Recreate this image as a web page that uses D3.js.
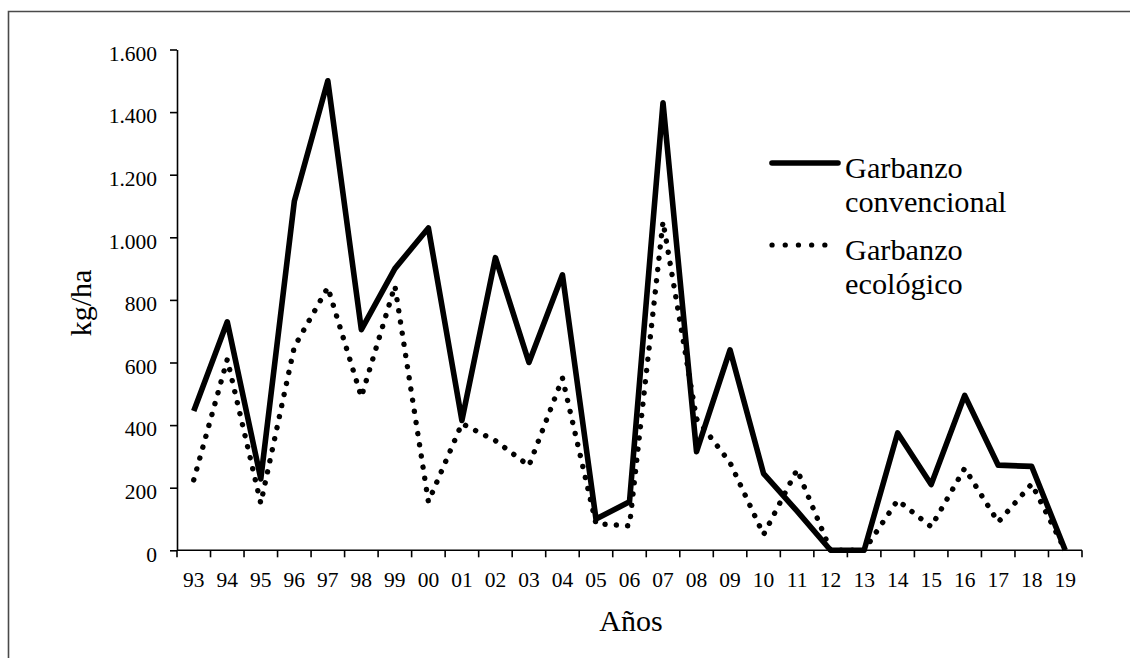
<!DOCTYPE html>
<html><head><meta charset="utf-8">
<script src="https://cdn.jsdelivr.net/npm/d3@7"></script>
<style>
html,body{margin:0;padding:0;background:#fff;}
svg{display:block;}
text{font-family:"Liberation Serif","Times New Roman",serif;fill:#000;}
</style></head>
<body>
<svg id="chart" width="1130" height="658"></svg>
<script>
const years = ["93","94","95","96","97","98","99","00","01","02","03","04","05","06","07","08","09","10","11","12","13","14","15","16","17","18","19"];
const convencional = [445,730,228,1115,1500,705,900,1030,415,935,600,880,100,155,1430,315,640,245,125,0,0,375,210,495,272,268,0];
const ecologico = [225,610,150,650,840,490,845,155,405,350,270,550,85,78,1050,420,280,50,258,0,0,160,75,262,90,212,0];
const yTicks = [0,200,400,600,800,1000,1200,1400,1600];
const seriesNames = ["Garbanzo convencional","Garbanzo ecológico"];

const svg = d3.select("#chart");

// outer frame
svg.append("path")
  .attr("d","M8.5,700 L8.5,11.5 L1140,11.5")
  .attr("fill","none").attr("stroke","#4a4a4a").attr("stroke-width",1.6);

const pL = 177, pR = 1082, pT = 49.5, pB = 550.3;
const x = d3.scaleBand().domain(years).range([pL,pR]).padding(0);
const y = d3.scaleLinear().domain([0,1600]).range([pB,pT]);
const fmt = v => d3.format(",")(v).replace(/,/g,".");

// Y axis
const gy = svg.append("g").attr("transform",`translate(${pL},0)`)
  .call(d3.axisLeft(y).tickValues(yTicks).tickFormat(fmt).tickSize(7).tickSizeOuter(0).tickPadding(13));
gy.attr("font-family",null).attr("font-size",null);
gy.select(".domain").attr("stroke","#000").attr("stroke-width",1.6);
gy.selectAll(".tick line").attr("stroke","#000").attr("stroke-width",1.6);
gy.selectAll(".tick text").attr("font-size","21.5px").attr("dy","0.5em");

// X axis with ticks at band boundaries
const gx = svg.append("g").attr("transform",`translate(0,${pB})`);
gx.append("line").attr("x1",pL).attr("x2",pR).attr("y1",0).attr("y2",0)
  .attr("stroke","#000").attr("stroke-width",1.6);
const boundaries = years.map(d => x(d)).concat([pR]);
gx.selectAll("line.tk").data(boundaries).join("line").attr("class","tk")
  .attr("x1",d=>d).attr("x2",d=>d).attr("y1",0).attr("y2",7)
  .attr("stroke","#000").attr("stroke-width",1.6);
gx.selectAll("text").data(years).join("text")
  .attr("x",d=>x(d)+x.bandwidth()/2).attr("y",37)
  .attr("text-anchor","middle").attr("font-size","21.5px").text(d=>d);

// lines
const line = d3.line().x((d,i)=>x(years[i])+x.bandwidth()/2).y(d=>y(d));
svg.append("path").datum(ecologico).attr("d",line)
  .attr("fill","none").attr("stroke","#000").attr("stroke-width",5.4)
  .attr("stroke-linecap","round").attr("stroke-dasharray","0.1 11.2");
svg.append("path").datum(convencional).attr("d",line)
  .attr("fill","none").attr("stroke","#000").attr("stroke-width",5.6)
  .attr("stroke-linejoin","round");

// axis titles
svg.append("text").attr("x",631).attr("y",631).attr("text-anchor","middle")
  .attr("font-size","30px").text("Años");
svg.append("text").attr("transform","translate(91,303) rotate(-90)")
  .attr("text-anchor","middle").attr("font-size","30px").text("kg/ha");

// legend
const lg = svg.append("g");
lg.append("line").attr("x1",772).attr("x2",838).attr("y1",163).attr("y2",163)
  .attr("stroke","#000").attr("stroke-width",5.6).attr("stroke-linecap","round");
lg.append("line").attr("x1",772).attr("x2",838).attr("y1",245).attr("y2",245)
  .attr("stroke","#000").attr("stroke-width",5.2).attr("stroke-linecap","round")
  .attr("stroke-dasharray","0.1 13.1");
const t1 = lg.append("text").attr("x",845).attr("y",178).attr("font-size","30.3px");
t1.append("tspan").attr("x",845).text("Garbanzo");
t1.append("tspan").attr("x",845).attr("dy",34).text("convencional");
const t2 = lg.append("text").attr("x",845).attr("y",260).attr("font-size","30.3px");
t2.append("tspan").attr("x",845).text("Garbanzo");
t2.append("tspan").attr("x",845).attr("dy",34).text("ecológico");
</script>
</body></html>
